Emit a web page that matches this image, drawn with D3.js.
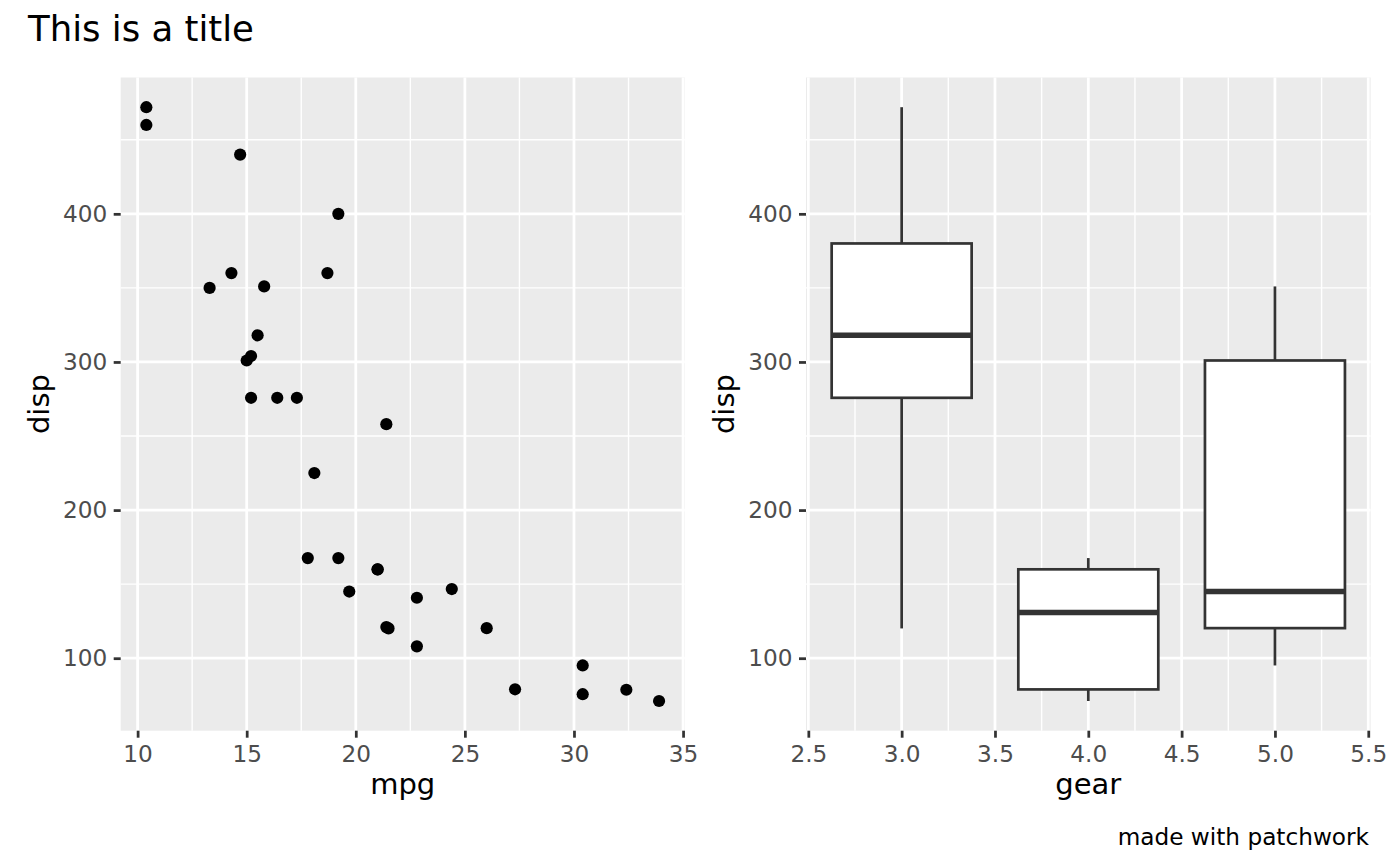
<!DOCTYPE html>
<html>
<head>
<meta charset="utf-8">
<script src="https://cdn.jsdelivr.net/npm/d3@7"></script>
<style>
  body { margin: 0; background: #fff; }
  svg { display: block; font-family: "DejaVu Sans", sans-serif; }
</style>
</head>
<body>
<svg id="chart" width="1400" height="866"></svg>
<script>
// mtcars: mpg, disp, gear
const mpg  = [21.0,21.0,22.8,21.4,18.7,18.1,14.3,24.4,22.8,19.2,17.8,16.4,17.3,15.2,10.4,10.4,14.7,32.4,30.4,33.9,21.5,15.5,15.2,13.3,19.2,27.3,26.0,30.4,15.8,19.7,15.0,21.4];
const disp = [160,160,108,258,360,225,360,146.7,140.8,167.6,167.6,275.8,275.8,275.8,472,460,440,78.7,75.7,71.1,120.1,318,304,350,400,79,120.3,95.1,351,145,301,121];
const gear = [4,4,4,3,3,3,3,4,4,4,4,3,3,3,3,3,3,4,4,4,3,3,3,3,3,4,5,5,5,5,5,4];

const mpgTicks  = [10,15,20,25,30,35];
const dispTicks = [100,200,300,400];
const gearTicks = [2.5,3.0,3.5,4.0,4.5,5.0,5.5];

const titleText = "This is a title";
const captionText = "made with patchwork";

const svg = d3.select("#chart");
const pTop = 77.5, pBottom = 730.7;
const leftPanel = {x0: 120.7, x1: 684.7};
const rightPanel = {x0: 806, x1: 1370.6};

const PANEL_BG = "#EBEBEB";
const GRID = "#FFFFFF";
const DARK = "#333333";
const TICK_TXT = "#4D4D4D";
const TICK_FS = 23.2, AXIS_FS = 29, TITLE_FS = 35.5;

function expand(ext, m) { const r = ext[1]-ext[0]; return [ext[0]-r*m, ext[1]+r*m]; }

// Box stats (R type 7 quantiles)
const levels = Array.from(new Set(gear)).sort(d3.ascending);
const boxWidth = 0.75;
const stats = levels.map(g => {
  const v = disp.filter((d,i) => gear[i] === g).sort(d3.ascending);
  const q1 = d3.quantile(v, 0.25), med = d3.quantile(v, 0.5), q3 = d3.quantile(v, 0.75);
  const iqr = q3 - q1;
  const lo = d3.min(v.filter(d => d >= q1 - 1.5*iqr));
  const hi = d3.max(v.filter(d => d <= q3 + 1.5*iqr));
  return {g, q1, med, q3, lo, hi};
});

const yDomain = expand(d3.extent(disp), 0.05);

function panel(p, xDomain, xTicks, xMinor, xFmt, xLabel) {
  const x = d3.scaleLinear().domain(xDomain).range([p.x0, p.x1]);
  const y = d3.scaleLinear().domain(yDomain).range([pBottom, pTop]);
  const g = svg.append("g");
  g.append("rect").attr("x", p.x0).attr("y", pTop).attr("width", p.x1-p.x0).attr("height", pBottom-pTop).attr("fill", PANEL_BG);
  const yMinor = [];
  for (let i = 0; i < dispTicks.length+1; i++) {
    const v = (i===0 ? dispTicks[0] - 50 : dispTicks[i-1] + 50);
    if (v > yDomain[0] && v < yDomain[1]) yMinor.push(v);
  }
  g.selectAll(".ymin").data(yMinor).join("line")
    .attr("x1", p.x0).attr("x2", p.x1).attr("y1", d=>y(d)).attr("y2", d=>y(d))
    .attr("stroke", GRID).attr("stroke-width", 1.4);
  g.selectAll(".xmin").data(xMinor.filter(d => d > xDomain[0] && d < xDomain[1])).join("line")
    .attr("y1", pTop).attr("y2", pBottom).attr("x1", d=>x(d)).attr("x2", d=>x(d))
    .attr("stroke", GRID).attr("stroke-width", 1.4);
  g.selectAll(".ymaj").data(dispTicks).join("line")
    .attr("x1", p.x0).attr("x2", p.x1).attr("y1", d=>y(d)).attr("y2", d=>y(d))
    .attr("stroke", GRID).attr("stroke-width", 2.75);
  g.selectAll(".xmaj").data(xTicks).join("line")
    .attr("y1", pTop).attr("y2", pBottom).attr("x1", d=>x(d)).attr("x2", d=>x(d))
    .attr("stroke", GRID).attr("stroke-width", 2.75);

  const ax = svg.append("g").attr("transform", `translate(0,${pBottom})`)
    .call(d3.axisBottom(x).tickValues(xTicks).tickFormat(xFmt).tickSize(7).tickPadding(7.5));
  const ay = svg.append("g").attr("transform", `translate(${p.x0},0)`)
    .call(d3.axisLeft(y).tickValues(dispTicks).tickFormat(d3.format("d")).tickSize(7).tickPadding(6.5));
  [ax, ay].forEach(a => {
    a.select(".domain").remove();
    a.selectAll(".tick line").attr("stroke", DARK).attr("stroke-width", 2.75);
    a.selectAll(".tick text").attr("fill", TICK_TXT).attr("font-size", TICK_FS).attr("font-family", "DejaVu Sans");
  });
  svg.append("text").attr("x", (p.x0+p.x1)/2).attr("y", 794).attr("text-anchor", "middle")
    .attr("font-size", AXIS_FS).attr("fill", "#000").text(xLabel);
  const yx = p.x0 - 71.7;
  svg.append("text").attr("transform", `translate(${yx},${(pTop+pBottom)/2}) rotate(-90)`)
    .attr("text-anchor", "middle").attr("font-size", AXIS_FS).attr("fill", "#000").text("disp");
  return {x, y, g};
}

// Left: scatter
const L = panel(leftPanel, expand(d3.extent(mpg), 0.05), mpgTicks,
  mpgTicks.slice(0,-1).map(d => d + 2.5).concat([mpgTicks[0]-2.5]), d3.format("d"), "mpg");
L.g.selectAll("circle").data(mpg.map((m,i) => [m, disp[i]])).join("circle")
  .attr("cx", d => L.x(d[0])).attr("cy", d => L.y(d[1])).attr("r", 6.1).attr("fill", "#000");

// Right: boxplot
const gx = expand([d3.min(levels) - boxWidth/2, d3.max(levels) + boxWidth/2], 0.05);
const R = panel(rightPanel, gx, gearTicks,
  gearTicks.slice(0,-1).map(d => d + 0.25).concat([gearTicks[0]-0.25]), d3.format(".1f"), "gear");
const bx = R.g.selectAll(".box").data(stats).join("g");
bx.append("line").attr("x1", d=>R.x(d.g)).attr("x2", d=>R.x(d.g)).attr("y1", d=>R.y(d.q3)).attr("y2", d=>R.y(d.hi))
  .attr("stroke", DARK).attr("stroke-width", 2.7);
bx.append("line").attr("x1", d=>R.x(d.g)).attr("x2", d=>R.x(d.g)).attr("y1", d=>R.y(d.q1)).attr("y2", d=>R.y(d.lo))
  .attr("stroke", DARK).attr("stroke-width", 2.7);
bx.append("rect").attr("x", d=>R.x(d.g - boxWidth/2)).attr("width", d=>R.x(d.g + boxWidth/2) - R.x(d.g - boxWidth/2))
  .attr("y", d=>R.y(d.q3)).attr("height", d=>R.y(d.q1) - R.y(d.q3))
  .attr("fill", "#fff").attr("stroke", DARK).attr("stroke-width", 2.7);
bx.append("line").attr("x1", d=>R.x(d.g - boxWidth/2)).attr("x2", d=>R.x(d.g + boxWidth/2))
  .attr("y1", d=>R.y(d.med)).attr("y2", d=>R.y(d.med))
  .attr("stroke", DARK).attr("stroke-width", 5.4);

svg.append("text").attr("x", 28).attr("y", 41).attr("font-size", TITLE_FS).attr("fill", "#000").text(titleText);
svg.append("text").attr("x", 1369).attr("y", 845).attr("text-anchor", "end").attr("font-size", TICK_FS).attr("fill", "#000").text(captionText);
</script>
</body>
</html>
